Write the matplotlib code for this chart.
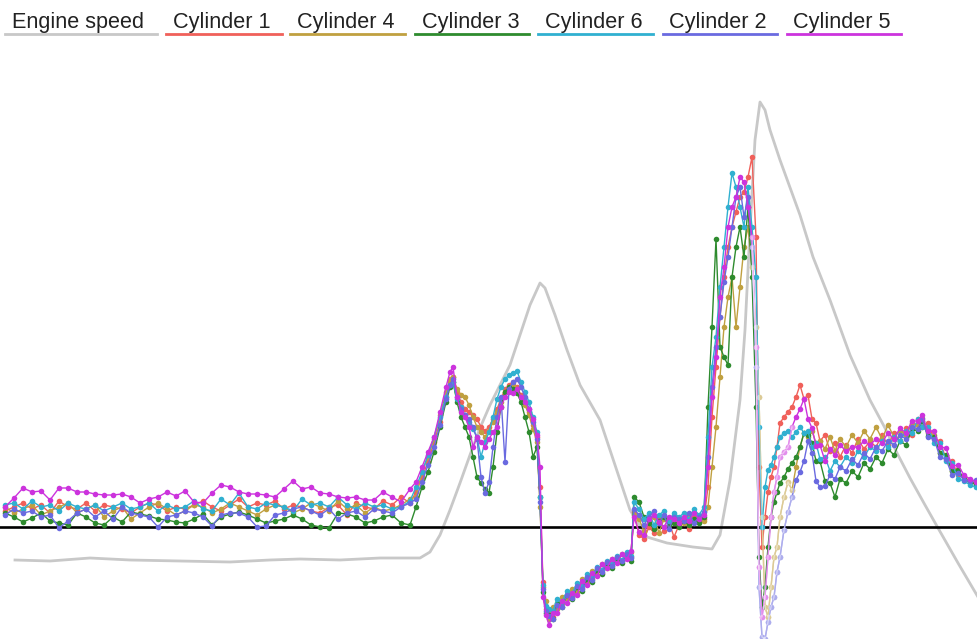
"""Knock retard per cylinder vs engine speed trace."""
import matplotlib
matplotlib.use('Agg')
import matplotlib.pyplot as plt
from matplotlib.lines import Line2D
import numpy as np

W, H = 978, 639

# --- sample times (shared by all cylinders) ---
t = [5, 14, 23, 32, 41, 50, 59, 68, 77, 86, 95, 104, 113, 122, 131, 140, 149, 158, 167, 176,
     185, 194, 203, 212, 221, 230, 239, 248, 257, 266, 275, 284, 293, 302, 311, 320, 329, 338, 347, 356,
     365, 374, 383, 392, 401, 410,
     416, 422, 428, 434, 440, 446, 450, 453, 457, 461,
     465, 469, 473, 477, 481, 485, 489, 493, 497, 501,
     505, 509, 513, 517, 521, 525, 529, 533, 537, 540,
     543, 546, 549, 553, 557, 562, 567, 572, 577, 582,
     587, 592, 597, 602, 607, 612, 617, 622, 627, 631,
     634, 639, 644, 649, 654, 659, 664, 669, 674, 679,
     684, 689, 694, 699, 704, 708, 712, 716, 720, 724,
     728, 732, 736, 740, 744, 748, 752, 756, 759, 762,
     765, 768, 771, 774, 777, 780, 784, 788, 792, 796,
     800, 804, 808, 812, 816, 820, 825, 830, 835, 840,
     846, 852, 858, 864, 870, 876, 882, 888, 894, 900,
     906, 912, 918, 922, 928, 934, 940, 946, 952, 958,
     964, 970, 976]

cyl1 = [16, 20, 24, 18, 22, 14, 26, 20, 18, 24, 16, 22, 20, 18, 14, 20, 24, 22, 16, 20,
        18, 22, 26, 20, 16, 22, 28, 20, 24, 22, 26, 18, 22, 20, 16, 14, 20, 22, 12, 24,
        20, 18, 26, 22, 30, 24,
        35, 50, 65, 85, 105, 130, 145, 150, 135, 125,
        118, 115, 112, 108, 100, 96, 100, 108, 118, 128,
        138, 142, 145, 140, 132, 125, 115, 102, 90, 40,
        -55, -82, -86, -90, -78, -76, -68, -70, -60, -61,
        -50, -52, -43, -46, -36, -39, -31, -34, -27, -30,
        15, -8, -12, 0, -6, 10, -4, 5, -10, 2,
        8, -2, 10, 5, 8, 40, 110, 160, 210, 250,
        280, 300, 315, 330, 335, 350, 370, 290, 60, -20,
        10, 35, 50, 60, 80, 104, 110, 115, 120, 130,
        142, 128, 132, 108, 104, 86, 92, 76, 84, 70,
        82, 74, 88, 78, 86, 80, 92, 82, 94, 86,
        99, 92, 108, 100, 104, 88, 86, 68, 66, 52,
        50, 46, 44]

cyl4 = [20, 14, 18, 22, 12, 16, 20, 24, 14, 18, 22, 10, 16, 20, 8, 14, 20, 24, 18, 12,
        16, 22, 20, 14, 18, 24, 20, 16, 12, 18, 22, 20, 14, 18, 24, 20, 16, 26, 18, 22,
        14, 20, 16, 18, 22, 28,
        30, 55, 70, 88, 112, 135, 148, 150, 138, 132,
        130, 122, 110, 100, 95, 90, 96, 105, 115, 125,
        135, 140, 142, 138, 130, 122, 112, 98, 85, 20,
        -60, -74, -92, -80, -82, -70, -72, -62, -65, -52,
        -55, -44, -48, -37, -41, -32, -35, -27, -31, -25,
        12, 8, -4, 6, 10, -6, 8, 4, 12, 6,
        4, 12, 8, 10, 6, 20, 60, 100, 150, 200,
        230, 250, 200, 240, 280, 300, 260, 200, 130, 10,
        -80, -90, -60, -30, -20, 10, 30, 45, 37, 60,
        80, 94, 90, 96, 84, 86, 78, 90, 76, 88,
        80, 92, 84, 96, 88, 100, 88, 102, 90, 96,
        92, 104, 102, 109, 94, 92, 74, 72, 56, 58,
        48, 45, 43]

cyl3 = [14, 10, 5, 9, 14, 6, 4, 2, 14, 10, 4, 2, 10, 5, 15, 13, 11, 8, 7, 5,
        4, 8, 13, 2, 10, 13, 15, 12, 8, 4, 6, 8, 12, 8, 2, 0, -1, 14, 13, 10,
        4, 6, 10, 12, 4, 2,
        20, 40, 55, 75, 100, 125, 140, 145, 125, 110,
        100, 90, 70, 50, 44, 38, 34, 60, 95, 120,
        135, 140, 138, 134, 125, 110, 95, 70, 80, 30,
        -65, -86, -88, -92, -76, -80, -68, -72, -60, -64,
        -52, -55, -43, -47, -36, -41, -31, -36, -28, -34,
        30, 25, 10, 4, -2, 6, 10, 2, 4, 0,
        6, 2, 8, 4, 10, 120, 200, 288, 180, 170,
        162, 250, 280, 300, 270, 320, 250, 120, -30, -80,
        -60, -20, 10, 25, 35, 44, 50, 58, 64, 70,
        80, 94, 92, 84, 66, 66, 46, 44, 30, 48,
        44, 56, 50, 64, 58, 70, 64, 78, 72, 86,
        82, 98, 96, 106, 91, 90, 74, 72, 56, 57,
        48, 45, 43]

cyl6 = [22, 24, 18, 26, 20, 22, 16, 24, 20, 18, 22, 16, 20, 24, 18, 20, 24, 16, 22, 18,
        20, 26, 18, 16, 28, 22, 34, 20, 18, 24, 22, 20, 16, 28, 22, 24, 20, 30, 22, 18,
        24, 20, 22, 18, 20, 26,
        40, 55, 72, 90, 110, 130, 142, 145, 128, 120,
        112, 105, 98, 90, 70, 85, 95, 110, 128, 140,
        148, 152, 154, 156, 145, 135, 125, 110, 95, 30,
        -58, -79, -82, -84, -72, -75, -64, -67, -56, -59,
        -47, -49, -40, -43, -34, -37, -29, -33, -25, -29,
        25, 18, 8, 14, 2, 12, 16, 6, 14, 10,
        14, 8, 18, 12, 20, 90, 160, 190, 240, 280,
        320, 354, 340, 320, 300, 340, 300, 250, 100, 0,
        40, 57, 62, 70, 80, 90, 94, 96, 90, 95,
        100, 94, 96, 80, 84, 68, 70, 56, 66, 60,
        70, 64, 76, 70, 80, 76, 86, 80, 90, 86,
        96, 94, 108, 100, 100, 84, 84, 66, 64, 48,
        46, 42, 40]

cyl2 = [12, 18, 14, 16, 10, 12, -1, 6, 14, 18, 10, 16, 8, 20, 14, 12, 10, 0, 10, 12,
        16, 14, 10, 1, 12, 14, 14, 10, 0, 1, 12, 14, 18, 20, 16, 12, 18, 8, 14, 16,
        10, 18, 16, 14, 20, 24,
        28, 45, 62, 80, 102, 128, 142, 148, 130, 118,
        112, 108, 100, 88, 50, 34, 45, 80, 110, 130,
        65, 138, 145, 148, 140, 130, 118, 105, 88, 25,
        -62, -84, -89, -92, -78, -80, -68, -71, -59, -62,
        -50, -53, -41, -45, -35, -39, -30, -34, -27, -31,
        18, 12, 2, 10, 16, 4, 12, -2, 10, 8,
        6, 14, 4, 10, 15, 70, 140, 180, 210, 245,
        270, 300, 330, 340, 310, 330, 280, 160, -60, -110,
        -112, -95, -80, -70, -45, -30, -3, 15, 30, 47,
        55, 66, 86, 74, 46, 40, 41, 52, 48, 60,
        56, 68, 62, 74, 68, 80, 76, 86, 82, 92,
        88, 100, 98, 108, 90, 88, 70, 68, 52, 54,
        47, 46, 47]

cyl5 = [20, 29, 39, 35, 36, 27, 39, 39, 35, 35, 33, 32, 32, 33, 30, 24, 28, 30, 35, 31,
        36, 25, 24, 34, 42, 40, 35, 33, 33, 32, 30, 38, 46, 38, 40, 34, 33, 30, 29, 30,
        27, 27, 35, 30, 25, 38,
        45, 60, 75, 90, 115, 140, 155, 160, 130, 115,
        110, 100, 80, 90, 85, 80, 88, 95, 100, 120,
        130, 135, 134, 138, 130, 125, 118, 108, 92, 60,
        -70, -88, -98, -86, -86, -74, -76, -66, -68, -54,
        -58, -46, -49, -37, -41, -32, -36, -27, -32, -24,
        10, -5, -8, 8, 12, 5, 0, 10, 8, 4,
        10, 6, 14, 8, 12, 60, 130, 170, 230, 260,
        300, 320, 330, 350, 345, 320, 290, 180, -40, -90,
        -70, -30, 10, 35, 50, 70, 75, 80, 100, 110,
        118, 128, 108, 99, 81, 82, 66, 78, 72, 82,
        76, 80, 80, 86, 82, 88, 84, 94, 88, 99,
        94, 106, 106, 112, 96, 96, 80, 79, 61, 62,
        52, 48, 45]

# --- engine speed (rpm) ---
t_rpm = [15, 50, 90, 130, 180, 230, 270, 300, 340, 380, 420, 430, 440, 450, 460, 470, 480, 490,
         500, 510, 520, 530, 540, 545, 555, 567, 580, 600, 615, 630, 647, 667, 693, 712, 720, 730,
         740, 745, 750, 755, 760, 765, 770, 780, 800, 813, 830, 850, 870, 885, 897, 910, 925, 938,
         958, 978]
rpm = [800, 790, 820, 800, 790, 780, 800, 810, 800, 820, 820, 880, 1050, 1300, 1570, 1850, 2120, 2350,
       2550, 2750, 3050, 3350, 3570, 3520, 3250, 2900, 2550, 2200, 1750, 1300, 1030, 970, 930, 910, 1050, 1600,
       2400, 3100, 4100, 5000, 5380, 5300, 5100, 4800, 4250, 3830, 3400, 2850, 2400, 2120, 1870, 1620, 1350, 1120,
       770, 430]

names = ['Cylinder 1', 'Cylinder 4', 'Cylinder 3', 'Cylinder 6', 'Cylinder 2', 'Cylinder 5']
series = [cyl1, cyl4, cyl3, cyl6, cyl2, cyl5]
colors = ['#f0605a', '#c0a040', '#2e8b2e', '#30b0d0', '#6a6ae0', '#cc33dd']
faded = [False, True, False, False, True, True]
rpm_color = '#c8c8c8'

fig = plt.figure(figsize=(W / 100, H / 100), dpi=100)
ax = fig.add_axes([0, 0, 1, 1])
ax2 = ax.twinx()
ax.set_zorder(2)
ax.patch.set_visible(False)

ax2.plot(t_rpm, rpm, color=rpm_color, linewidth=2.0, zorder=1)
ax2.set_ylim(10, 6400)

ax.axhline(0, color='black', linewidth=1.9, zorder=2)

tt = np.array(t)
for vals, c, fd in zip(series, colors, faded):
    v = np.array(vals, dtype=float)
    ax.plot(tt, v, color=c, linewidth=1.0, marker='o', markersize=4.0,
            markeredgewidth=0, zorder=3)
    if fd:
        # washed-out look during the fuel-cut collapse
        m = (tt >= 752) & (tt <= 792)
        ax.plot(tt[m], v[m], color='white', alpha=0.45, linewidth=1.0, marker='o',
                markersize=4.1, markeredgewidth=0, zorder=4)

ax.set_xlim(0, W)
ax.set_ylim(-112, 527)
ax2.set_xlim(0, W)
ax.axis('off')
ax2.axis('off')

# --- legend with coloured underlines ---
legend_items = [('Engine speed', rpm_color, 12, 5, 157)]
legend_items += [(n, c, x, a, b) for n, c, x, a, b in zip(
    names, colors, [173, 297, 422, 545, 669, 793],
    [166, 290, 415, 538, 663, 787], [282, 405, 529, 653, 777, 901])]
for label, c, xt, x0, x1 in legend_items:
    fig.text(xt / W, 1 - 28 / H, label, fontsize=15.6, color='#222222',
             family='Liberation Sans', va='baseline', ha='left')
    fig.add_artist(Line2D([x0 / W, x1 / W], [1 - 33.5 / H, 1 - 33.5 / H],
                          color=c, linewidth=2.0, transform=fig.transFigure))

fig.savefig('out.png', dpi=100)
